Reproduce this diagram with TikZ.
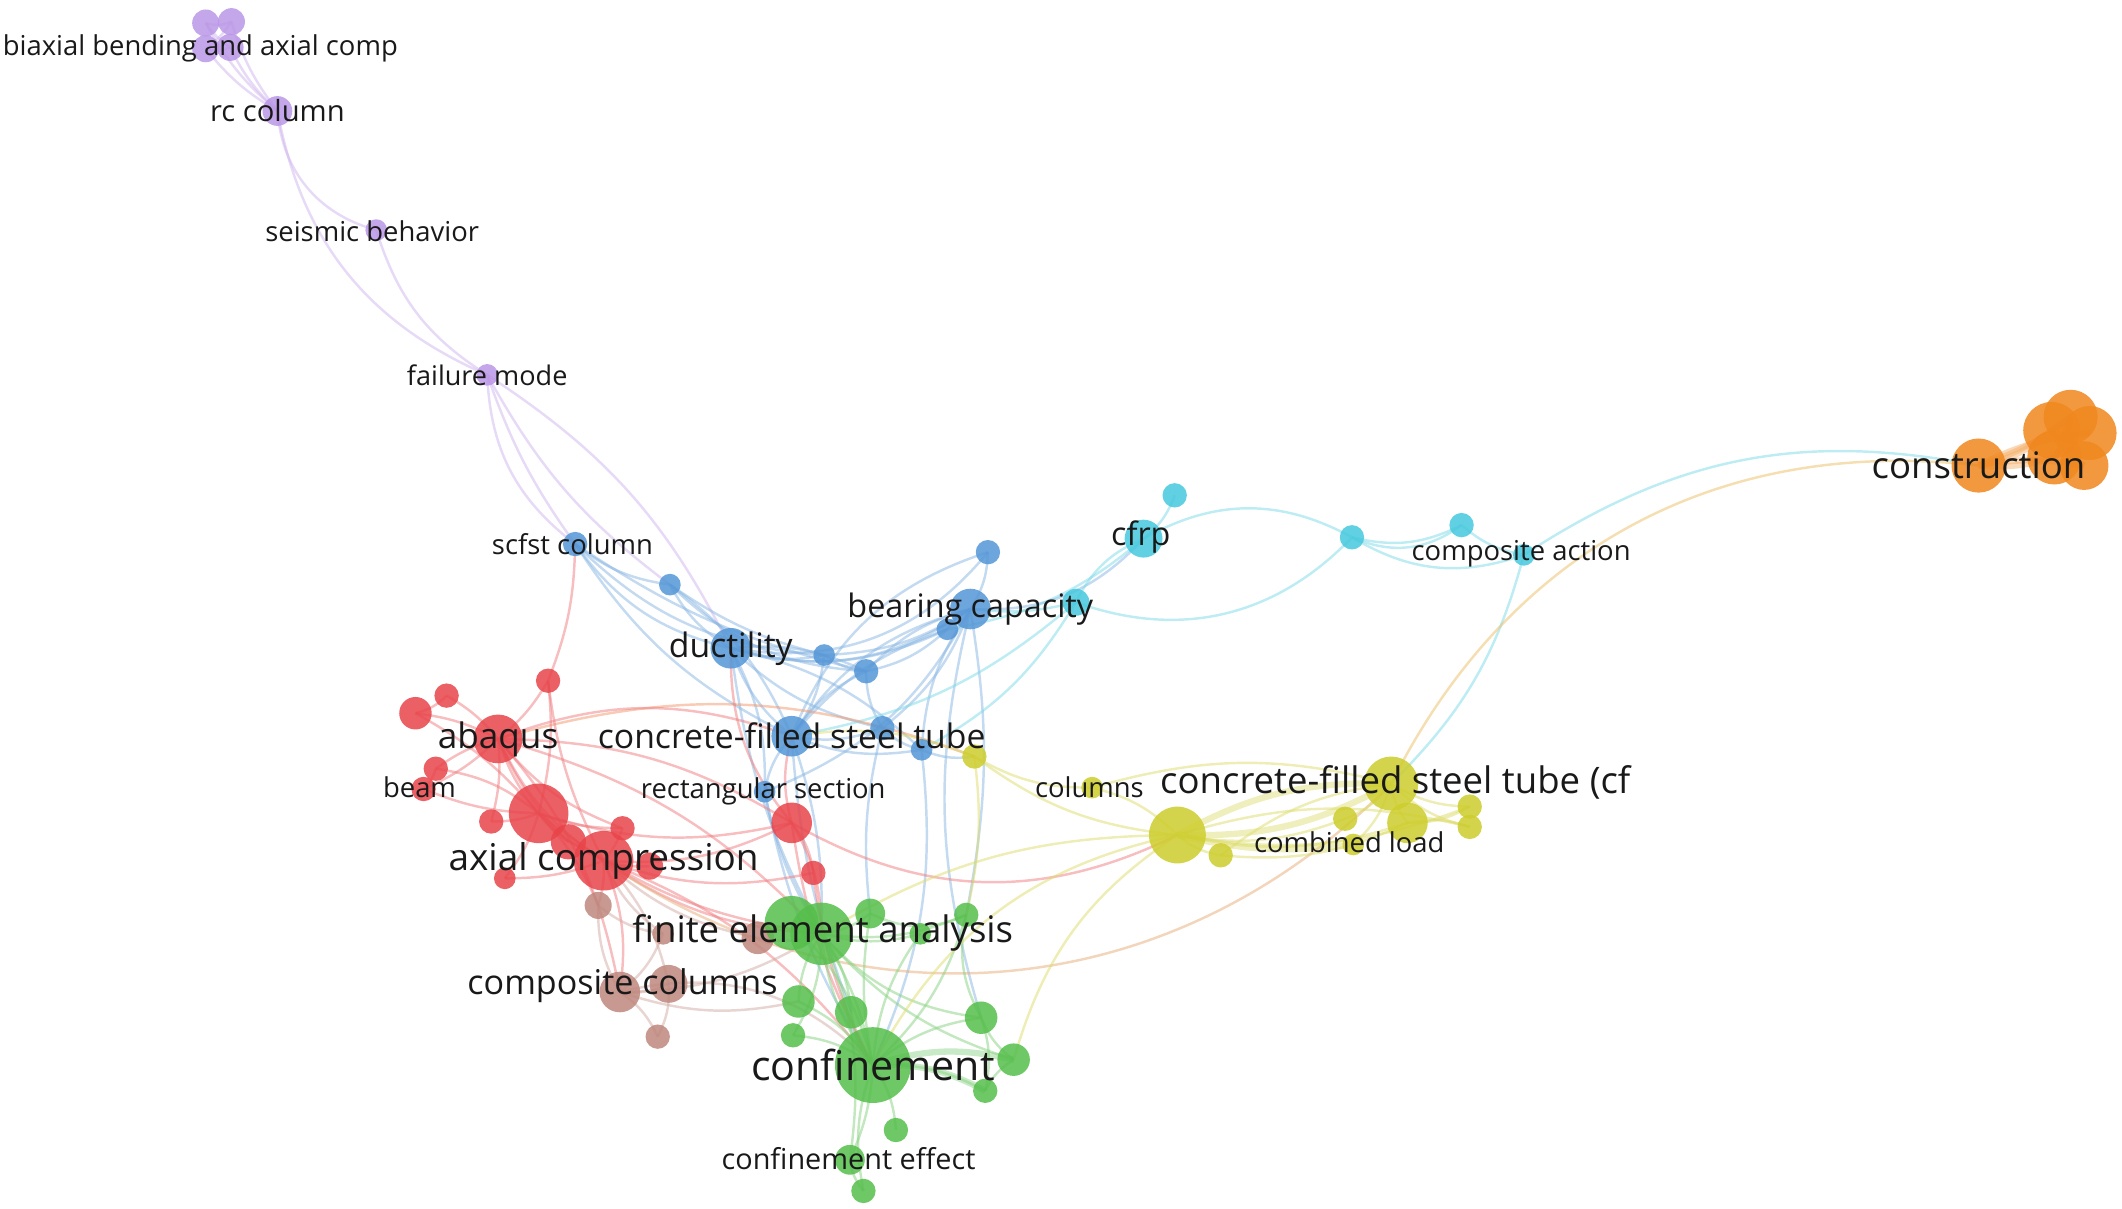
\documentclass[tikz,border=0pt]{standalone}
\usepackage{fontspec}
\setmainfont{Open Sans}
\usetikzlibrary{backgrounds}

\definecolor{pu}{RGB}{186,150,230}
\definecolor{bl}{RGB}{84,150,214}
\definecolor{cy}{RGB}{70,200,222}
\definecolor{og}{RGB}{240,135,30}
\definecolor{ye}{RGB}{205,205,45}
\definecolor{rd}{RGB}{232,68,74}
\definecolor{bn}{RGB}{190,135,125}
\definecolor{gn}{RGB}{85,190,75}
\definecolor{txt}{RGB}{25,25,25}

\begin{document}
\begin{tikzpicture}[x=0.013533cm, y=-0.013533cm,
    kw/.style={circle, inner sep=0pt, minimum size=#1*0.027066cm, fill opacity=0.85},
    lk/.style={draw=#1!70!white, line width=0.7pt, opacity=0.5},
    fat/.style={line width=1.8pt, opacity=0.45},
    tag/.style={font=\fontsize{#1}{#1}\selectfont, text=txt, inner sep=0pt}]
    \useasboundingbox (0,0) rectangle (1568,893);

    % keywords
    \foreach \n/\px/\py/\r/\c in {
        bbA/152/17/10/pu, bbB/171/16/10/pu, bbC/152/36/10/pu, bbD/170/35/10/pu,
        rcc/205/82/11/pu, seis/278/170/8/pu, fail/360/277/8/pu,
        scfst/425/402/9/bl, blB/495/432/8/bl, duct/540/479/15/bl, blC/730/408/9/bl,
        bear/717/450/15/bl, blD/700/465/8/bl, blE/609/484/8/bl, blF/640/496/9/bl,
        cfst/585/544/15/bl, blG/652/538/9/bl, blH/681/554/8/bl, rect/565/585/8/bl,
        cfrp/845/398/14/cy, cyB/868/366/9/cy, cyC/795/445/10/cy, cyD/999/397/9/cy,
        cyE/1080/388/9/cy, comp/1126/410/8/cy,
        cons/1462/344/20/og, orB/1530/308/20/og, orC/1516/318/21/og, orD/1544/320/20/og,
        orE/1518/338/20/og, orF/1540/344/18/og,
        yeA/720/559/9/ye, colm/807/582/8/ye, yeB/870/617/21/ye, yeC/902/632/9/ye,
        cfcf/1028/579/20/ye, yeD/1040/608/15/ye, yeE/994/605/9/ye, comb/1000/624/8/ye,
        yeF/1086/596/9/ye, yeG/1086/611/9/ye,
        abaq/368/546/18/rd, reB/307/527/12/rd, reC/330/514/9/rd, reD/405/503/9/rd,
        beam/313/583/9/rd, reE/322/568/9/rd, reF/398/601/22/rd, reG/363/607/9/rd,
        reH/460/612/9/rd, reI/420/622/13/rd, axc/446/636/22/rd, reJ/480/640/10/rd,
        reK/373/649/8/rd, reL/585/608/15/rd, reM/601/645/9/rd,
        brA/442/669/10/bn, brB/490/690/8/bn, brC/560/693/12/bn, coco/458/733/15/bn,
        brD/494/727/14/bn, brE/486/766/9/bn,
        grB/585/682/20/gn, fea/607/690/23/gn, grC/643/675/11/gn, grD/714/676/9/gn,
        grE/680/690/8/gn, grF/590/740/12/gn, grG/629/748/12/gn, grH/725/752/12/gn,
        grI/586/765/9/gn, conf/645/787/28/gn, grJ/749/783/12/gn, grK/728/806/9/gn,
        grL/662/835/9/gn, cfe/628/857/11/gn, grM/638/880/9/gn}
        \node[kw=\r, fill=\c] (\n) at (\px,\py) {};

    % links
    \begin{scope}[on background layer]
    \foreach \a/\b/\c/\t in {
        bbA/rcc/pu/-10, bbB/rcc/pu/-10, bbC/rcc/pu/-10, bbD/rcc/pu/-10, bbA/bbB/pu/-20,
        bbC/bbD/pu/-20, bbA/bbD/pu/-10, bbB/bbC/pu/10, rcc/seis/pu/-35, rcc/fail/pu/-28,
        seis/fail/pu/-20, fail/scfst/pu/-25, fail/scfst/pu/-8, fail/blB/pu/-12, fail/duct/pu/15,
        scfst/blB/bl/-15, scfst/duct/bl/-20, scfst/cfst/bl/-15, scfst/blE/bl/-20,
        scfst/blF/bl/-10, scfst/reD/rd/10, blB/duct/bl/-15, blB/blE/bl/-10, blB/blF/bl/-20,
        blB/cfst/bl/15, duct/cfst/bl/-15, duct/blE/bl/-15, duct/blF/bl/15, duct/bear/bl/-25,
        duct/blG/bl/-15, duct/blH/bl/15, duct/rect/bl/15, duct/blD/bl/-20, duct/blC/bl/-30,
        bear/blC/bl/-15, bear/blD/bl/-15, bear/blE/bl/15, bear/blF/bl/-15, bear/cfst/bl/-20,
        bear/blG/bl/15, bear/blH/bl/-15, bear/cfrp/bl/-25, bear/rect/bl/20, blC/cfst/bl/-25,
        cfst/blG/bl/-15, cfst/blH/bl/-15, cfst/rect/bl/-15, cfst/blE/bl/-15, cfst/blF/bl/15,
        blE/blF/bl/-15, blF/blG/bl/-15, blG/blH/bl/-15, blD/blF/bl/15, blD/cfst/bl/-15,
        blH/yeA/bl/-15, rect/fea/bl/-10, cfst/fea/bl/10, duct/fea/bl/-10, bear/grH/bl/-15,
        bear/grD/bl/10, blG/grC/bl/-10, blH/conf/bl/15, rect/conf/bl/-10, cfst/grG/bl/-8,
        cfrp/cyB/cy/-15, cfrp/cyC/cy/-20, cfrp/cyD/cy/29, cyC/cyD/cy/-33, cyD/cyE/cy/-20,
        cyD/cyE/cy/-30, cyD/comp/cy/-25, cyE/comp/cy/-15, comp/cons/cy/22, comp/cfcf/cy/15,
        bear/cyC/cy/-10, cyC/blH/cy/15, cyC/cfst/cy/15, blD/cfrp/cy/-15,
        cons/cfcf/og!60!ye/-35, abaq/yeA/og!60!rd/18,
        abaq/reB/rd/-10, abaq/reC/rd/-10, abaq/reD/rd/-10, abaq/beam/rd/10, abaq/reE/rd/-10,
        abaq/reF/rd/-10, abaq/axc/rd/-15, abaq/reG/rd/10, abaq/reH/rd/-15, abaq/reI/rd/-10,
        abaq/cfst/rd/20, abaq/reL/rd/15, abaq/fea/rd/15, abaq/coco/rd/15,
        reF/axc/rd/-10, reF/beam/rd/10, reF/reE/rd/-15, reF/reG/rd/10, reF/reH/rd/-10,
        reF/reI/rd/-10, reF/reL/rd/-15, reF/reK/rd/10, reF/brA/rd/10, reF/fea/rd/-15,
        reF/reB/rd/-10, axc/reI/rd/-10, axc/reJ/rd/-10, axc/reH/rd/-10, axc/reK/rd/10,
        axc/reL/rd/-15, axc/reM/rd/-15, axc/fea/rd/-15, axc/conf/rd/15, axc/coco/rd/15,
        axc/brA/rd/10, axc/cfcf/rd!50!ye/-40, reL/yeB/rd/-28, reL/reM/rd/15, reL/cfst/rd/15,
        reL/fea/rd/15, reD/reF/rd/10, reD/axc/rd/-10, beam/reE/rd/-15, reB/reC/rd/-15,
        reL/duct/rd/20, reM/conf/rd/-10, reL/conf/rd/-10,
        coco/brD/bn/-15, coco/brA/bn/15, coco/brE/bn/15, coco/brB/bn/-15, coco/fea/bn/-15,
        coco/conf/bn/30, brD/brE/bn/15, brD/axc/bn/-15, brC/fea/bn/-15, brC/axc/bn/15,
        brB/axc/bn/15, coco/grF/bn/-15, brA/brB/bn/-15,
        fea/grB/gn/-10, fea/grC/gn/-15, fea/grD/gn/-15, fea/grE/gn/-15, fea/grF/gn/-15,
        fea/grG/gn/15, fea/conf/gn/-15, fea/conf/gn/10, fea/grI/gn/15, fea/grH/gn/-20,
        fea/grJ/gn/-15, grB/conf/gn/15, grC/conf/gn/-10, grD/conf/gn/15, grE/conf/gn/-15,
        grF/conf/gn/15, grG/conf/gn/-15, grH/conf/gn/-15, grK/conf/gn/-15, grL/conf/gn/-15,
        cfe/conf/gn/-10, grM/conf/gn/15, grI/conf/gn/15, grH/grJ/gn/-15, grJ/grK/gn/-15,
        grH/grK/gn/15, cfe/grM/gn/-15, fea/cfe/gn/15, grD/grH/gn/-20, grC/grD/gn/-25,
        yeB/yeA/ye/15, yeB/colm/ye/-15, yeB/yeC/ye/-15, yeB/yeD/ye/-15, yeB/yeE/ye/-15,
        yeB/yeF/ye/-15, yeB/yeG/ye/15, cfcf/yeD/ye/-15, cfcf/yeE/ye/15, cfcf/yeF/ye/-15,
        cfcf/yeG/ye/-15, cfcf/comb/ye/15, yeD/yeF/ye/-15, yeD/yeG/ye/15, yeC/cfcf/ye/15,
        yeC/yeD/ye/-15, yeA/colm/ye/-15, yeA/cfst/ye/-15, yeB/fea/ye/-15, yeB/grJ/ye/-20,
        yeA/grD/ye/10, colm/cfcf/ye/15, yeB/conf/ye/-25}
        \draw[lk=\c] (\a.center) to[bend left=\t] (\b.center);
    \foreach \a/\b/\c/\t in {
        yeB/cfcf/ye/-15, yeB/cfcf/ye/15, yeB/comb/ye/-10, grJ/conf/gn/-15, conf/grK/gn/15,
        cons/orB/og/-10, cons/orC/og/-15, cons/orD/og/10, cons/orE/og/-10, cons/orF/og/10,
        orB/orE/og/15, orC/orF/og/-15}
        \draw[lk=\c, fat] (\a.center) to[bend left=\t] (\b.center);
    \end{scope}

    % labels
    \node[tag=7.8] (bbA-t) at (148,36) {biaxial bending and axial comp};
    \node[tag=8.3] (rcc-t) at (rcc) {rc column};
    \node[tag=7.8] (seis-t) at (275,171) {seismic behavior};
    \node[tag=7.7] (fail-t) at (fail) {failure mode};
    \node[tag=7.8] (scfst-t) at (423,402) {scfst column};
    \node[tag=9.6] (duct-t) at (duct) {ductility};
    \node[tag=9.2] (bear-t) at (bear) {bearing capacity};
    \node[tag=9.6] (cfst-t) at (cfst) {concrete-filled steel tube};
    \node[tag=7.8] (rect-t) at (564,585) {rectangular section};
    \node[tag=9.2] (cfrp-t) at (843,397) {cfrp};
    \node[tag=7.8] (comp-t) at (1124,409) {composite action};
    \node[tag=10.4] (cons-t) at (cons) {construction};
    \node[tag=7.8] (colm-t) at (805,582) {columns};
    \node[tag=10.4] (cfcf-t) at (1031,578) {concrete-filled steel tube (cf};
    \node[tag=7.8] (comb-t) at (997,622) {combined load};
    \node[tag=10] (abaq-t) at (abaq) {abaqus};
    \node[tag=7.8] (beam-t) at (310,582) {beam};
    \node[tag=10.5] (axc-t) at (axc) {axial compression};
    \node[tag=10.4] (fea-t) at (608,689) {finite element analysis};
    \node[tag=9.7] (coco-t) at (460,728) {composite columns};
    \node[tag=11.7] (conf-t) at (conf) {confinement};
    \node[tag=8.2] (cfe-t) at (627,856) {confinement effect};
\end{tikzpicture}
\end{document}
